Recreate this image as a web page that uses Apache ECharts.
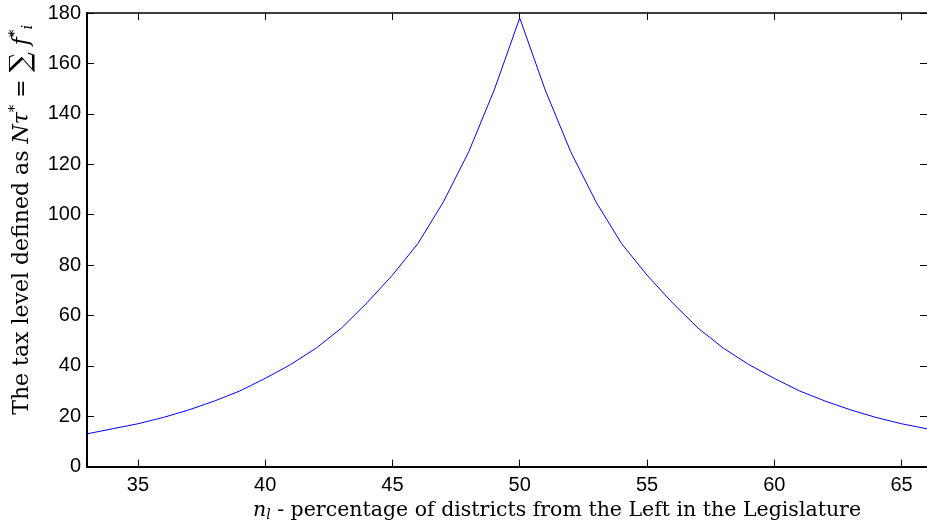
<!DOCTYPE html>
<html>
<head>
<meta charset="utf-8">
<script src="https://cdn.jsdelivr.net/npm/echarts@6/dist/echarts.min.js"></script>
<style>
  html, body { margin: 0; padding: 0; background: #fff; }
  #main { width: 927px; height: 527px; }
</style>
</head>
<body>
<div id="main"></div>
<script>
// n_l values (percent of districts from the Left)
var nl = [33, 34, 35, 36, 37, 38, 39, 40, 41, 42, 43, 44, 45, 46, 47, 48, 49, 50,
          51, 52, 53, 54, 55, 56, 57, 58, 59, 60, 61, 62, 63, 64, 65, 66];
// tax level N*tau*
var tax = [13, 15, 17, 19.5, 22.5, 26, 30, 35, 40.5, 47, 55, 65, 76, 88.5, 105, 125, 149.5, 178,
           149.5, 125, 105, 88.5, 76, 65, 55, 47, 40.5, 35, 30, 26, 22.5, 19.5, 17, 15];
var xTicks = [35, 40, 45, 50, 55, 60, 65];

var points = nl.map(function (v, i) { return [v, tax[i]]; });

var serif = 'DejaVu Serif';
var myChart = echarts.init(document.getElementById('main'));
var option = {
  animation: false,
  backgroundColor: '#fff',
  grid: { left: 84, top: 13, width: 844, height: 454 },
  xAxis: [
    {
      type: 'value', min: 33, max: 66,
      axisLine: { lineStyle: { color: '#000', width: 2 } },
      axisTick: { inside: true, length: 7, customValues: xTicks, lineStyle: { color: '#000' } },
      axisLabel: { customValues: xTicks, color: '#000', fontSize: 20, fontFamily: 'Liberation Sans', margin: 9 },
      splitLine: { show: false },
      name: '{it|n}{sub|l} - percentage of districts from the Left in the Legislature',
      nameLocation: 'middle',
      nameGap: 33,
      nameTextStyle: {
        color: '#000', fontFamily: serif, fontSize: 20.5,
        padding: [0, 0, 0, 100],
        rich: {
          it: { fontFamily: serif, fontStyle: 'italic', fontSize: 20.5, color: '#000' },
          sub: { fontFamily: serif, fontStyle: 'italic', fontSize: 14, color: '#000', verticalAlign: 'bottom', padding: [8, 0, 0, 0] }
        }
      }
    },
    {
      type: 'value', min: 33, max: 66, position: 'top',
      axisLine: { show: true, onZero: false, lineStyle: { color: '#000', width: 1.5 } },
      axisTick: { inside: true, length: 7, customValues: xTicks, lineStyle: { color: '#000' } },
      axisLabel: { show: false },
      splitLine: { show: false }
    }
  ],
  yAxis: [
    {
      type: 'value', min: 0, max: 180, interval: 20,
      axisLine: { show: true, lineStyle: { color: '#000', width: 2 } },
      axisTick: { show: true, inside: true, length: 7, lineStyle: { color: '#000' } },
      axisLabel: { color: '#000', fontSize: 20, fontFamily: 'Liberation Sans', margin: 6 },
      splitLine: { show: false },
      name: 'The tax level defined as {it|Nτ}{sup|*} = {big|∑} {it|f}{sup|*}{sub|i}',
      nameLocation: 'middle',
      nameRotate: 90,
      nameGap: 51,
      nameTextStyle: {
        color: '#000', fontFamily: serif, fontSize: 22,
        padding: [0, 0, 0, 40],
        rich: {
          it: { fontFamily: serif, fontStyle: 'italic', fontSize: 22, color: '#000' },
          big: { fontFamily: serif, fontSize: 28, color: '#000' },
          sup: { fontFamily: serif, fontSize: 15, color: '#000', verticalAlign: 'top', padding: [0, 0, 10, 0] },
          sub: { fontFamily: serif, fontStyle: 'italic', fontSize: 15, color: '#000', verticalAlign: 'bottom', padding: [8, 0, 0, 0] }
        }
      }
    },
    {
      type: 'value', min: 0, max: 180, interval: 20, position: 'right',
      axisLine: { show: true, lineStyle: { color: '#000', width: 1 } },
      axisTick: { show: true, inside: true, length: 7, lineStyle: { color: '#000' } },
      axisLabel: { show: false },
      splitLine: { show: false }
    }
  ],
  series: [
    {
      type: 'line',
      data: points,
      showSymbol: false,
      lineStyle: { color: '#0000ff', width: 1 },
      clip: true
    }
  ]
};
myChart.setOption(option);
</script>
</body>
</html>
